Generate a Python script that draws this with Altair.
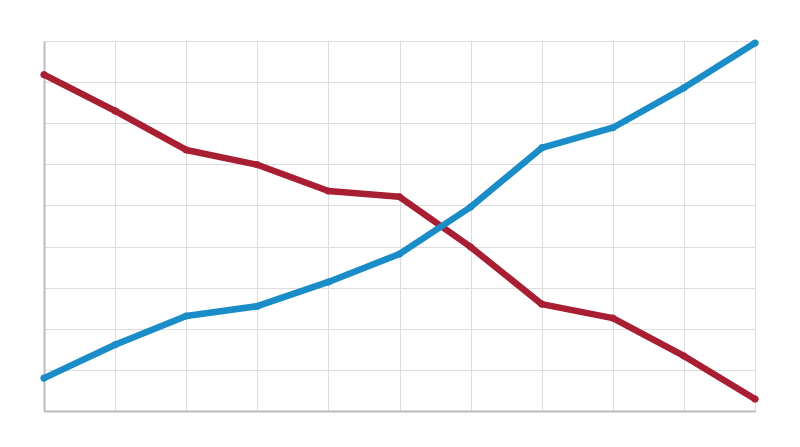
import altair as alt
import pandas as pd

x_vals = [0, 1, 2, 3, 4, 5, 6, 7, 8, 9, 10]
red_vals = [8.18, 7.30, 6.35, 5.99, 5.35, 5.21, 3.99, 2.60, 2.26, 1.34, 0.29]
blue_vals = [0.80, 1.61, 2.31, 2.55, 3.14, 3.82, 4.96, 6.40, 6.89, 7.86, 8.95]
series_names = ["Red", "Blue"]
series_colors = ["#A81E33", "#1A8CC8"]

rows = []
for xv, r, b in zip(x_vals, red_vals, blue_vals):
    rows.append({"x": xv, "value": r, "series": "Red"})
    rows.append({"x": xv, "value": b, "series": "Blue"})
df = pd.DataFrame(rows)

color = alt.Color("series:N", scale=alt.Scale(domain=series_names, range=series_colors), legend=None)
xenc = alt.X("x:Q", scale=alt.Scale(domain=[0, 10], nice=False),
             axis=alt.Axis(values=x_vals, labels=False, ticks=False, title=None,
                           domainColor="#bbbbbb", domainWidth=2, gridColor="#dddddd", gridWidth=1))
yenc = alt.Y("value:Q", scale=alt.Scale(domain=[0, 9], nice=False),
             axis=alt.Axis(values=list(range(0, 10)), labels=False, ticks=False, title=None,
                           domainColor="#bbbbbb", domainWidth=2, gridColor="#dddddd", gridWidth=1))

base = alt.Chart(df)
lines = base.mark_line(strokeWidth=6.5, strokeCap="round", strokeJoin="round").encode(
    x=xenc, y=yenc, color=color, detail="series:N")
points = base.mark_point(filled=True, size=50, opacity=1).encode(x="x:Q", y="value:Q", color=color)

chart = (lines + points).properties(
    width=711, height=370,
    autosize=alt.AutoSizeParams(type="none"),
    padding={"left": 36, "top": 33, "right": 30, "bottom": 30},
).configure_view(stroke=None).configure(background="white")

chart.save("out.html", embed_options={"renderer": "svg", "actions": False})
